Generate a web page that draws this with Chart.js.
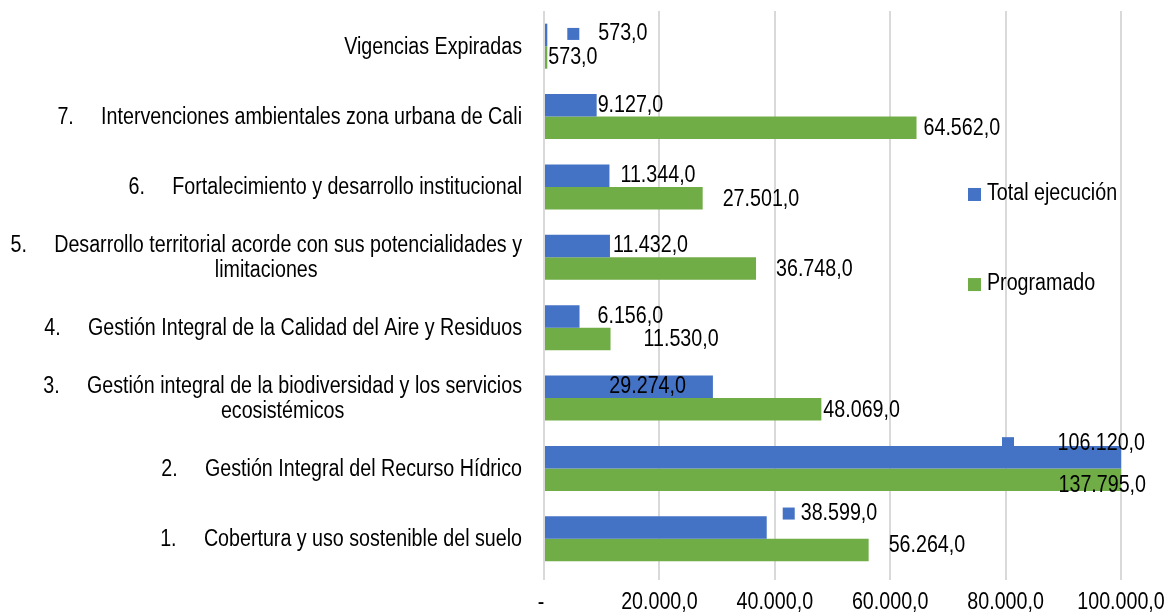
<!DOCTYPE html>
<html>
<head>
<meta charset="utf-8">
<script src="https://cdn.jsdelivr.net/npm/chart.js@4"></script>
<style>
  html, body { margin: 0; padding: 0; background: #fff; }
  #wrap { width: 1167px; height: 615px; }
</style>
</head>
<body>
<div id="wrap"><canvas id="presupuestoChart"></canvas></div>
<script>
// Categories (top to bottom), multi-line ones as arrays
const categories = [
    'Vigencias Expiradas',
    '7.     Intervenciones ambientales zona urbana de Cali',
    '6.     Fortalecimiento y desarrollo institucional',
    ['5.     Desarrollo territorial acorde con sus potencialidades y', 'limitaciones'],
    '4.     Gestión Integral de la Calidad del Aire y Residuos',
    ['3.     Gestión integral de la biodiversidad y los servicios', 'ecosistémicos'],
    '2.     Gestión Integral del Recurso Hídrico',
    '1.     Cobertura y uso sostenible del suelo'
];
const seriesNames = ['Total ejecución', 'Programado'];
const totalEjecucion = [573, 9127, 11344, 11432, 6156, 29274, 106120, 38599];
const programado = [573, 64562, 27501, 36748, 11530, 48069, 137795, 56264];
const xTicks = [0, 20000, 40000, 60000, 80000, 100000];

const BLUE = '#4472C4';
const GREEN = '#70AD47';
const FONT = "'Liberation Sans', Arial, sans-serif";
const FONT_SIZE = 23;
const SQUEEZE = 0.855; // the original uses a narrow font

// number format like 106.120,0
function fmt(v) {
    const parts = v.toFixed(1).split('.');
    const intPart = parts[0].replace(/\B(?=(\d{3})+(?!\d))/g, '.');
    return intPart + ',' + parts[1];
}

// condensed text helper
function drawText(ctx, text, x, y, align) {
    ctx.save();
    ctx.translate(x, y);
    ctx.scale(SQUEEZE, 1);
    ctx.textAlign = align;
    ctx.fillText(text, 0, 0);
    ctx.restore();
}

// manual nudges for the data labels (Excel placed them by hand)
const labelTweaks = {
    '0-0': { dx: 51, dy: -1, sq: 20 },
    '1-0': { dx: 1, dy: 0 },
    '0-1': { dx: 1, dy: 0 },
    '1-1': { dx: 7, dy: 1 },
    '0-2': { dx: 11, dy: 0 },
    '1-2': { dx: 20, dy: 1 },
    '0-3': { dx: 3, dy: 0 },
    '1-3': { dx: 20, dy: 1 },
    '0-4': { dx: 18, dy: 0 },
    '1-4': { dx: 33, dy: 1 },
    '0-5': { dx: -27, dy: 0, align: 'right' },
    '1-5': { dx: 2, dy: 1 },
    '0-6': { dx: 24, dy: -14, align: 'right', sq: -119 },
    '1-6': { dx: 25, dy: 6, align: 'right' },
    '0-7': { dx: 34, dy: -14, sq: 16 },
    '1-7': { dx: 20, dy: -4 }
};

// draws category labels, tick labels, value labels and the legend
const drawExtras = {
    id: 'drawExtras',
    afterDatasetsDraw(chart) {
        const ctx = chart.ctx;
        const area = chart.chartArea;
        const yScale = chart.scales.y;
        const xScale = chart.scales.x;
        ctx.save();
        ctx.font = FONT_SIZE + 'px ' + FONT;
        ctx.fillStyle = '#000';
        ctx.textBaseline = 'middle';

        // y axis labels
        const rightEdge = area.left - 22;
        const lineH = 25;
        categories.forEach((cat, i) => {
            const yc = yScale.getPixelForValue(i) + 1;
            if (Array.isArray(cat)) {
                const maxW = Math.max(...cat.map(t => ctx.measureText(t).width)) * SQUEEZE;
                const cx = rightEdge - maxW / 2;
                cat.forEach((t, k) => {
                    drawText(ctx, t, cx, yc + (k - (cat.length - 1) / 2) * lineH, 'center');
                });
            } else {
                drawText(ctx, cat, rightEdge, yc, 'right');
            }
        });

        // x axis tick labels
        xTicks.forEach(v => {
            const x = xScale.getPixelForValue(v);
            drawText(ctx, v === 0 ? '-' : fmt(v), v === 0 ? x - 3 : x, 603, 'center');
        });

        // value labels
        chart.data.datasets.forEach((ds, di) => {
            const meta = chart.getDatasetMeta(di);
            meta.data.forEach((bar, i) => {
                const t = labelTweaks[di + '-' + i] || { dx: 2, dy: 0 };
                const end = Math.min(bar.x, area.right);
                const y = bar.y + t.dy;
                if (t.sq !== undefined) {
                    ctx.fillStyle = BLUE;
                    ctx.fillRect(end + t.sq, y - 6, 12, 12);
                }
                ctx.fillStyle = '#000';
                drawText(ctx, fmt(ds.data[i]), end + t.dx, y, t.align || 'left');
            });
        });

        // legend
        const lx = area.right - 153;
        const legendY = [yScale.getPixelForValue(2.1), yScale.getPixelForValue(3.38)];
        chart.data.datasets.forEach((ds, di) => {
            ctx.fillStyle = ds.backgroundColor;
            ctx.fillRect(lx, legendY[di] - 6, 13, 13);
            ctx.fillStyle = '#000';
            drawText(ctx, ds.label, lx + 19, legendY[di], 'left');
        });
        ctx.restore();
    }
};

const ctx = document.getElementById('presupuestoChart').getContext('2d');
const barChart = new Chart(ctx, {
    type: 'bar',
    data: {
        labels: categories,
        datasets: [
            { label: seriesNames[0], data: totalEjecucion, backgroundColor: BLUE },
            { label: seriesNames[1], data: programado, backgroundColor: GREEN }
        ]
    },
    options: {
        indexAxis: 'y',
        responsive: true,
        maintainAspectRatio: false,
        animation: false,
        layout: { padding: { top: 11, right: 46, left: 0, bottom: 0 } },
        datasets: {
            bar: { categoryPercentage: 0.64, barPercentage: 1.0 }
        },
        scales: {
            x: {
                min: 0,
                max: 100000,
                afterBuildTicks: scale => { scale.ticks = xTicks.map(v => ({ value: v })); },
                afterFit: scale => { scale.height = 41; },
                border: { display: false },
                grid: { color: '#d9d9d9', lineWidth: 2, tickLength: 6, drawTicks: true },
                ticks: { display: false }
            },
            y: {
                afterFit: scale => { scale.width = 544; },
                border: { display: false },
                grid: { display: false },
                ticks: { display: false }
            }
        },
        plugins: {
            legend: { display: false },
            tooltip: { enabled: false }
        }
    },
    plugins: [drawExtras]
});
</script>
</body>
</html>
